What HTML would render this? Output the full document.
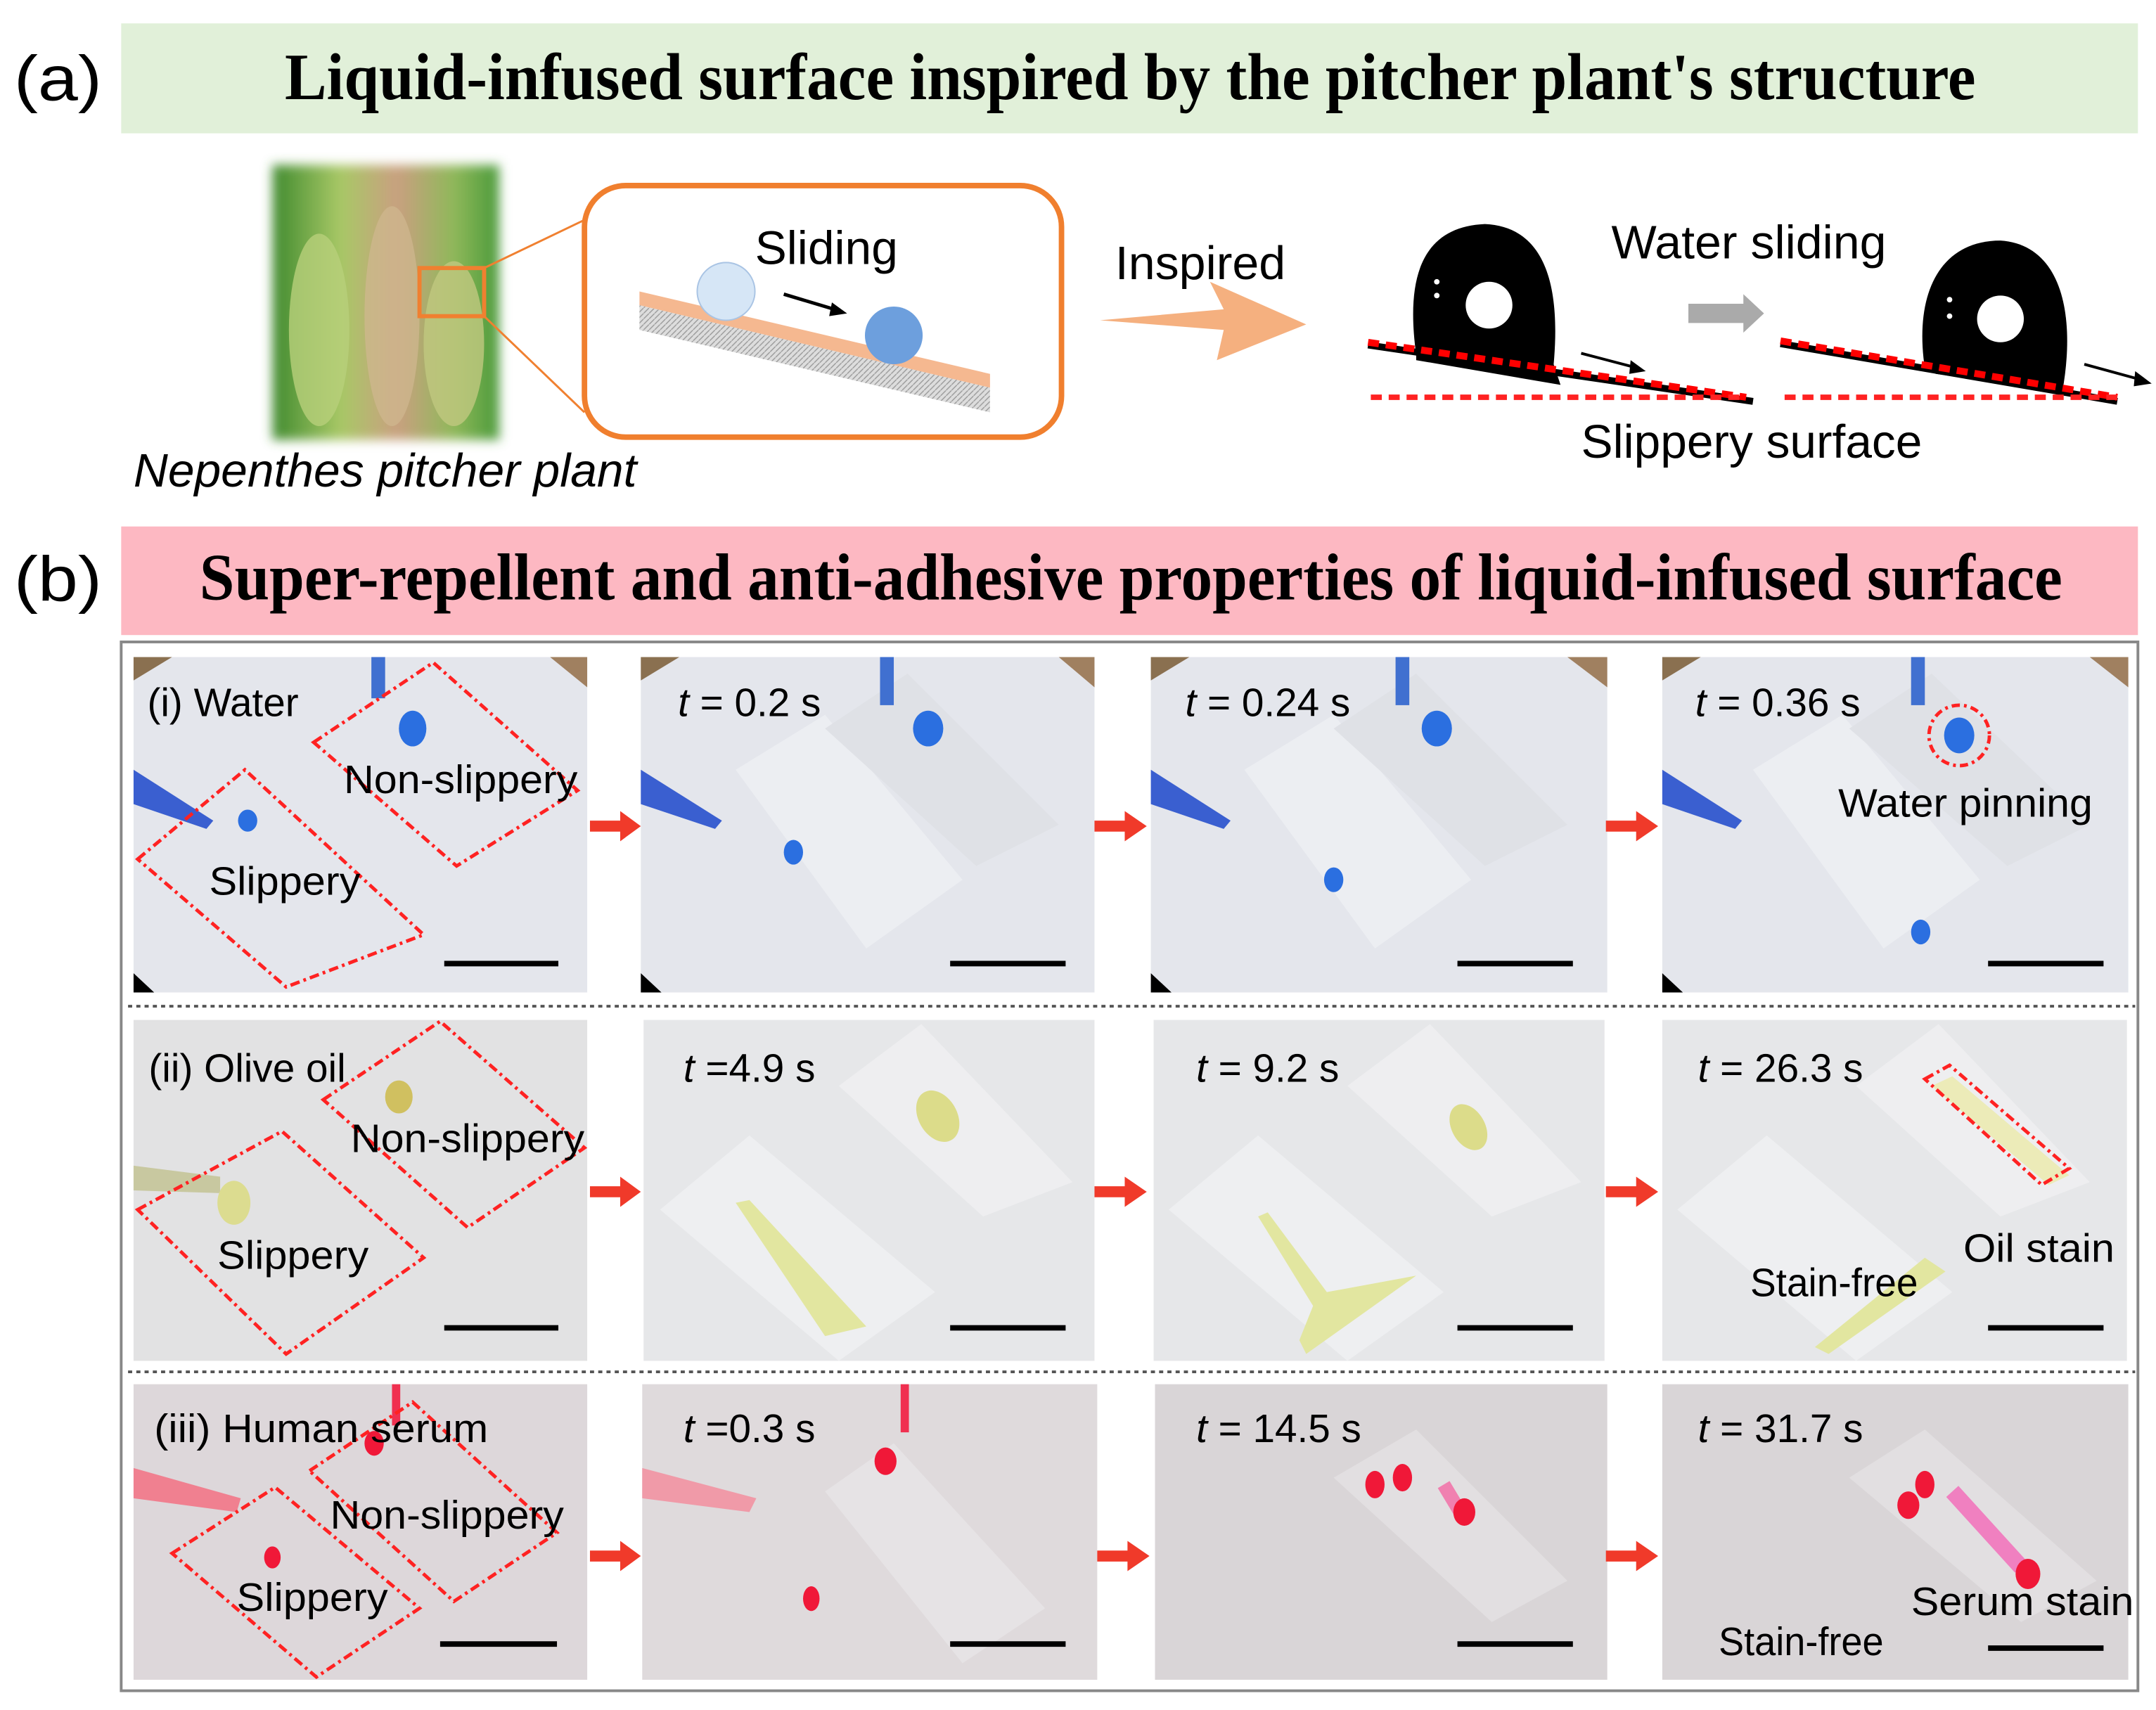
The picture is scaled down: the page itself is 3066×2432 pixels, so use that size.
<!DOCTYPE html>
<html><head><meta charset="utf-8"><style>html,body{margin:0;padding:0;background:#fff}svg{display:block}</style></head>
<body>
<svg width="3066" height="2432" viewBox="0 0 1568 1244" xmlns="http://www.w3.org/2000/svg" font-family="Liberation Sans, sans-serif">
<defs>
<linearGradient id="pl" x1="0" y1="0" x2="1" y2="0"><stop offset="0" stop-color="#3f8a2e"/><stop offset=".3" stop-color="#a8c866"/><stop offset=".55" stop-color="#c9a080"/><stop offset=".8" stop-color="#8fb85a"/><stop offset="1" stop-color="#4a9a3a"/></linearGradient>
<filter id="bl"><feGaussianBlur stdDeviation="4"/></filter>
<pattern id="hatch" width="4" height="4" patternUnits="userSpaceOnUse"><rect width="4" height="4" fill="#ddd"/><path d="M0 4L4 0" stroke="#999" stroke-width="0.7"/></pattern>
</defs>
<rect width="1568" height="1244" fill="#fff"/>
<!-- (a) -->
<rect x="88" y="17" width="1467" height="80" fill="#e1f0d9"/>
<text x="10" y="73" font-size="46" textLength="64" lengthAdjust="spacingAndGlyphs">(a)</text>
<text x="207" y="72" font-family="Liberation Serif, serif" font-weight="bold" font-size="48" textLength="1230" lengthAdjust="spacingAndGlyphs">Liquid-infused surface inspired by the pitcher plant's structure</text>
<!-- plant -->
<rect x="198" y="120" width="165" height="200" fill="url(#pl)" filter="url(#bl)"/>
<ellipse cx="232" cy="240" rx="22" ry="70" fill="#b8d07a" opacity=".8"/>
<ellipse cx="285" cy="230" rx="20" ry="80" fill="#d0b890" opacity=".7"/>
<ellipse cx="330" cy="250" rx="22" ry="60" fill="#c0c880" opacity=".8"/>
<rect x="305" y="195" width="47" height="35" fill="none" stroke="#f08030" stroke-width="3"/>
<line x1="352" y1="195" x2="425" y2="160" stroke="#f08030" stroke-width="1.5"/>
<line x1="352" y1="230" x2="425" y2="300" stroke="#f08030" stroke-width="1.5"/>
<rect x="425" y="135" width="347" height="183" rx="30" fill="#fff" stroke="#f07f2e" stroke-width="4"/>
<text x="601" y="192" font-size="34" text-anchor="middle" textLength="104" lengthAdjust="spacingAndGlyphs">Sliding</text>
<polygon points="465,222 720,282 720,300 465,240" fill="url(#hatch)"/>
<polygon points="465,212 720,272 720,282 465,222" fill="#f5b890"/>
<circle cx="528" cy="212" r="21" fill="#d6e6f6" stroke="#a9c4e4"/>
<circle cx="650" cy="244" r="21" fill="#6d9fdd"/>
<line x1="570" y1="214" x2="610" y2="226" stroke="#000" stroke-width="2.5"/>
<polygon points="616,228 605,220 603,230" fill="#000"/>
<text x="873" y="203" font-size="34" text-anchor="middle" textLength="124" lengthAdjust="spacingAndGlyphs">Inspired</text>
<polygon points="800,233 890,225 880,205 950,236 885,262 890,240" fill="#f5b07f"/>
<!-- droplets -->
<path d="M1030,258 C1022,200 1035,165 1080,163 C1125,165 1135,210 1130,265 L1135,280 L1030,262Z" fill="#000"/>
<circle cx="1083" cy="222" r="17" fill="#fff"/>
<circle cx="1045" cy="205" r="2" fill="#fff"/><circle cx="1045" cy="215" r="2" fill="#fff"/>
<line x1="995" y1="251" x2="1275" y2="292" stroke="#000" stroke-width="5"/>
<line x1="995" y1="249" x2="1270" y2="289" stroke="#f00" stroke-width="5" stroke-dasharray="8,5"/>
<line x1="997" y1="289" x2="1270" y2="289" stroke="#f22" stroke-width="4" stroke-dasharray="8,5"/>
<line x1="1150" y1="257" x2="1192" y2="268" stroke="#000" stroke-width="2"/><polygon points="1197,270 1186,262 1185,272" fill="#000"/>
<polygon points="1228,221 1268,221 1268,214 1283,228 1268,242 1268,235 1228,235" fill="#aaa"/>
<path d="M1400,268 C1392,215 1410,175 1455,175 C1500,178 1510,230 1500,285 L1408,272Z" fill="#000"/>
<circle cx="1455" cy="232" r="17" fill="#fff"/>
<circle cx="1418" cy="218" r="2" fill="#fff"/><circle cx="1418" cy="230" r="2" fill="#fff"/>
<line x1="1295" y1="250" x2="1540" y2="292" stroke="#000" stroke-width="5"/>
<line x1="1295" y1="248" x2="1540" y2="289" stroke="#f00" stroke-width="5" stroke-dasharray="8,5"/>
<line x1="1298" y1="289" x2="1545" y2="289" stroke="#f22" stroke-width="4" stroke-dasharray="8,5"/>
<line x1="1516" y1="265" x2="1560" y2="277" stroke="#000" stroke-width="2"/><polygon points="1565,279 1553,270 1552,281" fill="#000"/>
<text x="1272" y="188" font-size="34" text-anchor="middle" textLength="200" lengthAdjust="spacingAndGlyphs">Water sliding</text>
<text x="1274" y="333" font-size="34" text-anchor="middle" textLength="248" lengthAdjust="spacingAndGlyphs">Slippery surface</text>
<text x="97" y="354" font-size="34" font-style="italic" textLength="366" lengthAdjust="spacingAndGlyphs">Nepenthes pitcher plant</text>
<!-- (b) -->
<rect x="88" y="383" width="1467" height="79" fill="#fdb8c2"/>
<text x="10" y="437" font-size="46" textLength="64" lengthAdjust="spacingAndGlyphs">(b)</text>
<text x="145" y="436" font-family="Liberation Serif, serif" font-weight="bold" font-size="48" textLength="1355" lengthAdjust="spacingAndGlyphs">Super-repellent and anti-adhesive properties of liquid-infused surface</text>
<rect x="88" y="467" width="1467" height="763" fill="#fff" stroke="#888" stroke-width="2"/>
<line x1="93" y1="732" x2="1553" y2="732" stroke="#555" stroke-width="2" stroke-dasharray="3,3"/>
<line x1="93" y1="998" x2="1553" y2="998" stroke="#555" stroke-width="2" stroke-dasharray="3,3"/>
<!-- row 1 -->
<g>
<rect x="97" y="478" width="330" height="244" fill="#e4e6ec"/>
<rect x="466" y="478" width="330" height="244" fill="#e4e6ec"/>
<rect x="837" y="478" width="332" height="244" fill="#e4e6ec"/>
<rect x="1209" y="478" width="339" height="244" fill="#e4e6ec"/>
<polygon points="97,478 125,478 97,495" fill="#8a7050"/><polygon points="400,478 427,478 427,500" fill="#a08060"/>
<polygon points="466,478 494,478 466,495" fill="#8a7050"/><polygon points="770,478 796,478 796,500" fill="#a08060"/>
<polygon points="837,478 865,478 837,495" fill="#8a7050"/><polygon points="1140,478 1169,478 1169,500" fill="#a08060"/>
<polygon points="1209,478 1237,478 1209,495" fill="#8a7050"/><polygon points="1520,478 1548,478 1548,500" fill="#a08060"/>
<polygon points="97,722 97,708 112,722" fill="#000"/><polygon points="466,722 466,708 481,722" fill="#000"/><polygon points="837,722 837,708 852,722" fill="#000"/><polygon points="1209,722 1209,708 1224,722" fill="#000"/>
<polygon points="535,560 600,520 700,640 630,690" fill="#eceef2"/><polygon points="600,530 660,490 770,600 710,630" fill="#dfe1e6"/>
<polygon points="905,560 970,520 1070,640 1000,690" fill="#eceef2"/><polygon points="970,530 1030,490 1140,600 1080,630" fill="#dfe1e6"/>
<polygon points="1275,560 1340,520 1440,640 1370,690" fill="#eceef2"/><polygon points="1345,530 1405,490 1520,600 1460,630" fill="#dfe1e6"/>
<polygon points="97,560 155,597 150,603 97,585" fill="#3a5fd0"/><polygon points="466,560 525,597 520,603 466,585" fill="#3a5fd0"/><polygon points="837,560 895,597 890,603 837,585" fill="#3a5fd0"/><polygon points="1209,560 1267,597 1262,603 1209,585" fill="#3a5fd0"/>
<rect x="270" y="478" width="10" height="30" fill="#4070d0"/><rect x="640" y="478" width="10" height="35" fill="#4070d0"/><rect x="1015" y="478" width="10" height="35" fill="#4070d0"/><rect x="1390" y="478" width="10" height="35" fill="#4070d0"/>
<ellipse cx="180" cy="597" rx="7" ry="8" fill="#2b6fe0"/><ellipse cx="300" cy="530" rx="10" ry="13" fill="#2b6fe0"/>
<ellipse cx="577" cy="620" rx="7" ry="9" fill="#2b6fe0"/><ellipse cx="675" cy="530" rx="11" ry="13" fill="#2b6fe0"/>
<ellipse cx="970" cy="640" rx="7" ry="9" fill="#2b6fe0"/><ellipse cx="1045" cy="530" rx="11" ry="13" fill="#2b6fe0"/>
<ellipse cx="1397" cy="678" rx="7" ry="9" fill="#2b6fe0"/><ellipse cx="1425" cy="535" rx="11" ry="13" fill="#2b6fe0"/>
<circle cx="1425" cy="535" r="22" fill="none" stroke="#f22" stroke-width="2.5" stroke-dasharray="6,3,2,3"/>
<polygon points="100,625 178,560 308,680 208,718" fill="none" stroke="#f22" stroke-width="2.5" stroke-dasharray="7,3,2,3"/>
<polygon points="228,540 315,482 420,575 332,630" fill="none" stroke="#f22" stroke-width="2.5" stroke-dasharray="7,3,2,3"/>
<g font-size="29"><text x="107" y="521">(i)  Water</text><text x="250" y="577" textLength="170" lengthAdjust="spacingAndGlyphs">Non-slippery</text><text x="152" y="651" textLength="110" lengthAdjust="spacingAndGlyphs">Slippery</text>
<text x="493" y="521"><tspan font-style="italic">t</tspan> = 0.2 s</text><text x="862" y="521"><tspan font-style="italic">t</tspan> = 0.24 s</text><text x="1233" y="521"><tspan font-style="italic">t</tspan> = 0.36 s</text><text x="1337" y="594" textLength="185" lengthAdjust="spacingAndGlyphs">Water pinning</text></g>
<g stroke="#000" stroke-width="4"><line x1="323" y1="701" x2="406" y2="701"/><line x1="691" y1="701" x2="775" y2="701"/><line x1="1060" y1="701" x2="1144" y2="701"/><line x1="1446" y1="701" x2="1530" y2="701"/></g>
</g>
<!-- row 2 -->
<g>
<rect x="97" y="742" width="330" height="248" fill="#e2e2e3"/>
<rect x="468" y="742" width="328" height="248" fill="#e6e7e9"/>
<rect x="839" y="742" width="328" height="248" fill="#e6e7e9"/>
<rect x="1209" y="742" width="338" height="248" fill="#e6e7e9"/>
<polygon points="480,880 545,826 680,940 610,990" fill="#eeeff1"/><polygon points="610,790 670,745 780,860 715,885" fill="#eeeef0"/>
<polygon points="850,880 915,826 1050,940 980,990" fill="#eeeff1"/><polygon points="980,790 1040,745 1150,860 1085,885" fill="#eeeef0"/>
<polygon points="1220,880 1285,826 1420,940 1350,990" fill="#eeeff1"/><polygon points="1350,790 1410,745 1520,860 1455,885" fill="#eeeef0"/>
<polygon points="535,875 545,873 630,965 600,972" fill="#e2e6a0"/><ellipse cx="682" cy="812" rx="14" ry="20" fill="#dcdc8a" transform="rotate(-30 682 812)"/>
<polygon points="915,885 922,882 965,940 1030,928 950,985 945,975 955,950" fill="#e2e6a0"/><ellipse cx="1068" cy="820" rx="12" ry="18" fill="#dcdc8a" transform="rotate(-30 1068 820)"/>
<polygon points="1320,980 1400,915 1415,925 1330,985" fill="#e2e6a0"/><polygon points="1405,790 1420,783 1505,855 1490,862" fill="#ecebb8"/>
<polygon points="1400,785 1418,775 1505,850 1485,862" fill="none" stroke="#f22" stroke-width="2.5" stroke-dasharray="7,3,2,3"/>
<polygon points="97,848 160,856 160,868 97,866" fill="#c8c8a0"/><ellipse cx="170" cy="875" rx="12" ry="16" fill="#dcdc90"/><ellipse cx="290" cy="798" rx="10" ry="12" fill="#d0c060"/>
<polygon points="100,880 205,823 308,915 208,985" fill="none" stroke="#f22" stroke-width="2.5" stroke-dasharray="7,3,2,3"/>
<polygon points="235,800 320,743 425,835 340,893" fill="none" stroke="#f22" stroke-width="2.5" stroke-dasharray="7,3,2,3"/>
<g font-size="29"><text x="108" y="787">(ii)  Olive oil</text><text x="255" y="838" textLength="170" lengthAdjust="spacingAndGlyphs">Non-slippery</text><text x="158" y="923" textLength="110" lengthAdjust="spacingAndGlyphs">Slippery</text>
<text x="497" y="787"><tspan font-style="italic">t</tspan> =4.9 s</text><text x="870" y="787"><tspan font-style="italic">t</tspan> = 9.2 s</text><text x="1235" y="787"><tspan font-style="italic">t</tspan> = 26.3 s</text><text x="1428" y="918" textLength="110" lengthAdjust="spacingAndGlyphs">Oil stain</text><text x="1273" y="943" textLength="122" lengthAdjust="spacingAndGlyphs">Stain-free</text></g>
<g stroke="#000" stroke-width="4"><line x1="323" y1="966" x2="406" y2="966"/><line x1="691" y1="966" x2="775" y2="966"/><line x1="1060" y1="966" x2="1144" y2="966"/><line x1="1446" y1="966" x2="1530" y2="966"/></g>
</g>
<!-- row 3 -->
<g>
<rect x="97" y="1007" width="330" height="215" fill="#ddd7da"/>
<rect x="467" y="1007" width="331" height="215" fill="#dfdadc"/>
<rect x="840" y="1007" width="329" height="215" fill="#d9d5d7"/>
<rect x="1209" y="1007" width="339" height="215" fill="#d9d5d7"/>
<polygon points="600,1085 650,1050 760,1170 700,1210" fill="#e6e3e5"/><polygon points="970,1075 1030,1040 1140,1150 1085,1180" fill="#e2dfe1"/><polygon points="1345,1075 1400,1040 1525,1150 1470,1180" fill="#e2dfe1"/>
<polygon points="97,1068 175,1090 172,1100 97,1090" fill="#f08090"/><polygon points="467,1068 550,1090 545,1100 467,1090" fill="#f09aa8"/>
<rect x="285" y="1007" width="6" height="30" fill="#f03050"/><rect x="655" y="1007" width="6" height="35" fill="#f03050"/>
<ellipse cx="272" cy="1050" rx="7" ry="9" fill="#f01838"/><ellipse cx="198" cy="1133" rx="6" ry="8" fill="#f01838"/>
<ellipse cx="644" cy="1063" rx="8" ry="10" fill="#f01838"/><ellipse cx="590" cy="1163" rx="6" ry="9" fill="#f01838"/>
<ellipse cx="1000" cy="1080" rx="7" ry="10" fill="#f01838"/><ellipse cx="1020" cy="1075" rx="7" ry="10" fill="#f01838"/><path d="M1050,1080 L1062,1100" stroke="#f080b0" stroke-width="10"/><ellipse cx="1065" cy="1100" rx="8" ry="10" fill="#f01838"/>
<ellipse cx="1388" cy="1095" rx="8" ry="10" fill="#f01838"/><ellipse cx="1400" cy="1080" rx="7" ry="10" fill="#f01838"/><path d="M1420,1085 L1470,1140" stroke="#f080c0" stroke-width="12"/><ellipse cx="1475" cy="1145" rx="9" ry="11" fill="#f01838"/>
<polygon points="125,1130 200,1082 305,1170 230,1220" fill="none" stroke="#f22" stroke-width="2.5" stroke-dasharray="7,3,2,3"/>
<polygon points="225,1070 300,1020 405,1115 330,1165" fill="none" stroke="#f22" stroke-width="2.5" stroke-dasharray="7,3,2,3"/>
<g font-size="29"><text x="112" y="1049" textLength="243" lengthAdjust="spacingAndGlyphs">(iii)  Human serum</text><text x="240" y="1112" textLength="170" lengthAdjust="spacingAndGlyphs">Non-slippery</text><text x="172" y="1172" textLength="110" lengthAdjust="spacingAndGlyphs">Slippery</text>
<text x="497" y="1049"><tspan font-style="italic">t</tspan> =0.3 s</text><text x="870" y="1049"><tspan font-style="italic">t</tspan> = 14.5 s</text><text x="1235" y="1049"><tspan font-style="italic">t</tspan> = 31.7 s</text><text x="1390" y="1175" textLength="162" lengthAdjust="spacingAndGlyphs">Serum stain</text><text x="1250" y="1204" textLength="120" lengthAdjust="spacingAndGlyphs">Stain-free</text></g>
<g stroke="#000" stroke-width="4"><line x1="320" y1="1196" x2="405" y2="1196"/><line x1="691" y1="1196" x2="775" y2="1196"/><line x1="1060" y1="1196" x2="1144" y2="1196"/><line x1="1446" y1="1199" x2="1530" y2="1199"/></g>
</g>
<!-- red arrows -->
<g fill="#f03a2a">
<polygon points="429,597 451,597 451,590 466,601 451,612 451,605 429,605"/>
<polygon points="796,597 818,597 818,590 834,601 818,612 818,605 796,605"/>
<polygon points="1168,597 1190,597 1190,590 1206,601 1190,612 1190,605 1168,605"/>
<polygon points="429,863 451,863 451,856 466,867 451,878 451,871 429,871"/>
<polygon points="796,863 818,863 818,856 834,867 818,878 818,871 796,871"/>
<polygon points="1168,863 1190,863 1190,856 1206,867 1190,878 1190,871 1168,871"/>
<polygon points="429,1128 451,1128 451,1121 466,1132 451,1143 451,1136 429,1136"/>
<polygon points="798,1128 820,1128 820,1121 836,1132 820,1143 820,1136 798,1136"/>
<polygon points="1168,1128 1190,1128 1190,1121 1206,1132 1190,1143 1190,1136 1168,1136"/>
</g>
</svg>
</body></html>
